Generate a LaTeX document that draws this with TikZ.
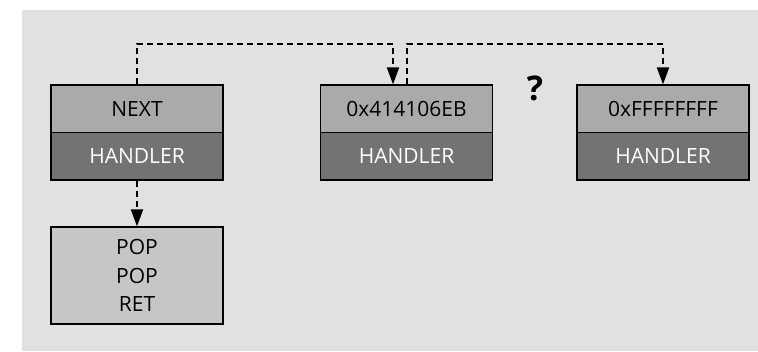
\documentclass[tikz,border=0pt]{standalone}
\usepackage{fontspec}
\setmainfont{Open Sans}
\usetikzlibrary{arrows.meta}
\definecolor{panel}{HTML}{E1E1E1}
\definecolor{cellhead}{HTML}{AAAAAA}
\definecolor{cellhand}{HTML}{737373}
\definecolor{cellcode}{HTML}{C6C6C6}
\begin{document}
\begin{tikzpicture}[x=1pt,y=-1pt,
  cell/.style={draw=black, line width=1.3pt, minimum width=172pt, minimum height=47.5pt,
    inner sep=0pt, font=\fontsize{21}{25}\selectfont},
  headcell/.style={cell, fill=cellhead, text=black},
  handcell/.style={cell, fill=cellhand, text=white},
  codecell/.style={cell, fill=cellcode, minimum height=97pt, align=center,
    font=\fontsize{21}{28.5}\selectfont},
  link/.style={draw=black, line width=2pt, dash pattern=on 6pt off 4pt,
    -{Triangle[length=17pt,width=12pt]}}
]
  % page and grey panel
  \useasboundingbox (0,0) rectangle (758,351);
  \fill[white] (0,0) rectangle (758,351);
  \fill[panel] (22,10) rectangle (758,351);

  % record chain
  \node[headcell] (n1) at (137,108.75) {NEXT};
  \node[handcell] (h1) at (137,156.25) {HANDLER};
  \node[headcell] (n2) at (406.5,108.75) {0x414106EB};
  \node[handcell] (h2) at (406.5,156.25) {HANDLER};
  \node[headcell] (n3) at (663,108.75) {0xFFFFFFFF};
  \node[handcell] (h3) at (663,156.25) {HANDLER};

  % handler code
  \node[codecell] (p1) at (137,275.5) {POP\\POP\\RET};

  % unknown next record
  \node[font=\fontsize{34}{34}\selectfont\bfseries] (q) at (535,88) {?};

  % links
  \draw[link] (n1.north) -- ++(0,-40) -| ([xshift=-13.5pt]n2.north);
  \draw[link] (n2.north) -- ++(0,-40) -| (n3.north);
  \draw[link] (h1.south) -- (p1.north);
\end{tikzpicture}
\end{document}
